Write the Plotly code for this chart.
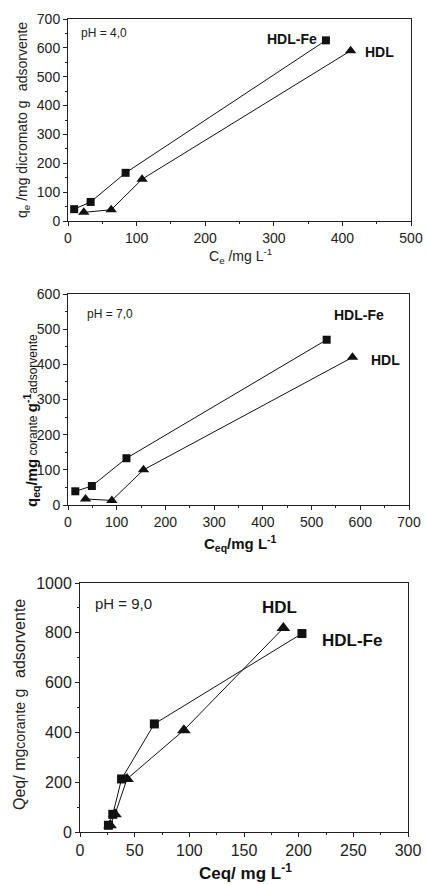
import plotly.graph_objects as go

W, H = 426, 884

# pH 4,0
ph4_fe_x = [9, 33, 84, 376]
ph4_fe_y = [41, 66, 167, 626]
ph4_hdl_x = [23, 63, 108, 412]
ph4_hdl_y = [30, 39, 145, 590]

# pH 7,0
ph7_fe_x = [15, 49, 120, 531]
ph7_fe_y = [39, 54, 133, 470]
ph7_hdl_x = [36, 90, 155, 584]
ph7_hdl_y = [17, 13, 100, 420]

# pH 9,0
ph9_fe_x = [26, 30, 38, 68, 203]
ph9_fe_y = [27, 71, 213, 434, 797]
ph9_hdl_x = [27.5, 32, 43, 95, 186]
ph9_hdl_y = [27, 71, 213, 409, 819]

FONT = "Liberation Sans, Arial, sans-serif"
TICKC = "#222"


def px_x(p):
    return p / W


def px_y(p):
    return 1 - p / H


panels = [
    dict(fe=(ph4_fe_x, ph4_fe_y), hdl=(ph4_hdl_x, ph4_hdl_y),
         xd=(68, 411), yd=(19, 221), xr=[0, 500], yr=[0, 700],
         xdt=100, ydt=100, xm=50, ym=50, tf=14, ms=(8, 10)),
    dict(fe=(ph7_fe_x, ph7_fe_y), hdl=(ph7_hdl_x, ph7_hdl_y),
         xd=(68, 409), yd=(294, 505), xr=[0, 700], yr=[0, 600],
         xdt=100, ydt=100, xm=50, ym=50, tf=14, ms=(8, 10)),
    dict(fe=(ph9_fe_x, ph9_fe_y), hdl=(ph9_hdl_x, ph9_hdl_y),
         xd=(80, 408), yd=(583, 832), xr=[0, 300], yr=[0, 1000],
         xdt=50, ydt=200, xm=25, ym=100, tf=16, ms=(9, 12)),
]

fig = go.Figure()
layout = dict(width=W, height=H, margin=dict(l=0, r=0, t=0, b=0, autoexpand=False),
              paper_bgcolor="white", plot_bgcolor="white", showlegend=False,
              font=dict(family=FONT, color=TICKC))

for i, p in enumerate(panels, start=1):
    xa = "x" if i == 1 else f"x{i}"
    ya = "y" if i == 1 else f"y{i}"
    fig.add_trace(go.Scatter(x=p["fe"][0], y=p["fe"][1], xaxis=xa, yaxis=ya,
                             mode="lines+markers", cliponaxis=False,
                             line=dict(color="#111", width=1),
                             marker=dict(symbol="square", size=p["ms"][0], color="#111")))
    fig.add_trace(go.Scatter(x=p["hdl"][0], y=p["hdl"][1], xaxis=xa, yaxis=ya,
                             mode="lines+markers", cliponaxis=False,
                             line=dict(color="#111", width=1),
                             marker=dict(symbol="triangle-up", size=p["ms"][1], color="#111")))
    xk = "xaxis" if i == 1 else f"xaxis{i}"
    yk = "yaxis" if i == 1 else f"yaxis{i}"
    common = dict(showline=True, linecolor="#222", linewidth=1, mirror=True,
                  ticks="outside", ticklen=4, tickcolor="#222", showgrid=False,
                  zeroline=False, automargin=False,
                  tickfont=dict(family=FONT, size=p["tf"], color=TICKC))
    layout[xk] = dict(domain=[px_x(p["xd"][0]), px_x(p["xd"][1])], range=p["xr"],
                      dtick=p["xdt"], tick0=0, anchor=ya,
                      minor=dict(ticks="outside", ticklen=2, dtick=p["xm"], tick0=0, tickcolor="#222"),
                      **common)
    layout[yk] = dict(domain=[px_y(p["yd"][1]), px_y(p["yd"][0])], range=p["yr"],
                      dtick=p["ydt"], tick0=0, anchor=xa,
                      minor=dict(ticks="outside", ticklen=2, dtick=p["ym"], tick0=0, tickcolor="#222"),
                      **common)

fig.update_layout(**layout)

ann = []


def A(text, x, y, size, bold=False, angle=0, color=TICKC, xanchor="center"):
    t = f"<b>{text}</b>" if bold else text
    ann.append(dict(text=t, x=px_x(x), y=px_y(y), xref="paper", yref="paper",
                    showarrow=False, textangle=angle, xanchor=xanchor, yanchor="middle",
                    font=dict(family=FONT, size=size, color=color)))


# Panel 1
A("pH = 4,0", 79, 33, 12, xanchor="left")
A("HDL-Fe", 265, 39, 14, bold=True, color="#111", xanchor="left")
A("HDL", 363, 52, 14, bold=True, color="#111", xanchor="left")
A("C<sub>e</sub> /mg L<sup>-1</sup>", 240, 256, 14)
A("q<sub>e</sub> /mg dicromato g<sup>  </sup> adsorvente", 22, 120, 14, angle=-90)

# Panel 2
A("pH = 7,0", 85, 314, 12, xanchor="left")
A("HDL-Fe", 332, 315, 14, bold=True, color="#111", xanchor="left")
A("HDL", 369, 360, 14, bold=True, color="#111", xanchor="left")
A("<b>C<sub>eq</sub>/mg L<sup>-1</sup></b>", 241, 543, 15, color="#111")
A("<b>q<sub>eq</sub>/mg</b><span style='font-size:12px'> corante </span>"
  "<b>g<sup>-1</sup></b><span style='font-size:12px'>adsorvente</span>",
  31, 421, 15, angle=-90, color="#111")

# Panel 3
A("pH = 9,0", 93, 603, 15, xanchor="left")
A("HDL", 260, 607, 17, bold=True, color="#111", xanchor="left")
A("HDL-Fe", 320, 640, 17, bold=True, color="#111", xanchor="left")
A("<b>Ceq/ mg L<sup>-1</sup></b>", 245, 872, 17, color="#111")
A("Qeq/ mg<span style='font-size:14px'>corante</span> g<sup>  </sup> adsorvente",
  18, 705, 16, angle=-90)

fig.update_layout(annotations=ann)
fig.write_html("out.html", config={"displayModeBar": False},
               post_script="document.body.style.margin='0';document.body.style.overflow='hidden';")
